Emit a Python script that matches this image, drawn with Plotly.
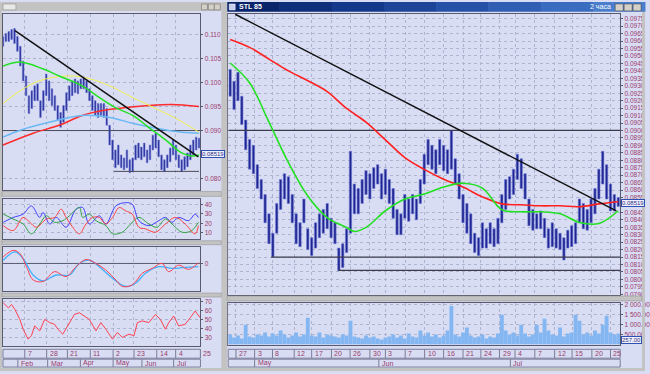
import plotly.graph_objects as go

W, H = 650, 374
def PX(x): return x / W
def PY(y): return 1 - y / H

# ======================= DATA =======================
# ---- left window: daily bars, x = trading-day index ----
L_DAY = list(range(0, 137, 2))
L_HIGH = [0.10959,0.11021,0.11062,0.11103,0.11123,0.10959,0.10753,0.10445,0.10137,0.09726,
          0.09829,0.09931,0.09972,0.09623,0.09829,0.10178,0.10034,0.09870,0.09726,0.09520,
          0.09377,0.09520,0.09788,0.09931,0.10034,0.10075,0.10034,0.10075,0.10116,0.10034,
          0.09870,0.09726,0.09623,0.09562,0.09562,0.09562,0.09459,0.09109,0.08801,0.08596,
          0.08698,0.08493,0.08431,0.08596,0.08390,0.08431,0.08698,0.08740,0.08657,0.08740,
          0.08596,0.08698,0.08904,0.08945,0.08801,0.08493,0.08390,0.08493,0.08637,0.08801,
          0.08698,0.08493,0.08390,0.08452,0.08534,0.08698,0.08801,0.08863,0.08842]
L_LOW = [0.10753,0.10856,0.10856,0.10897,0.10815,0.10651,0.10342,0.10034,0.09726,0.09356,
         0.09459,0.09623,0.09623,0.09274,0.09418,0.09726,0.09623,0.09520,0.09418,0.09212,
         0.09068,0.09171,0.09418,0.09623,0.09726,0.09788,0.09767,0.09870,0.09870,0.09788,
         0.09623,0.09418,0.09315,0.09274,0.09315,0.09274,0.09109,0.08698,0.08390,0.08226,
         0.08287,0.08226,0.08185,0.08226,0.08123,0.08144,0.08390,0.08431,0.08390,0.08452,
         0.08329,0.08390,0.08596,0.08637,0.08452,0.08185,0.08144,0.08226,0.08349,0.08493,
         0.08390,0.08226,0.08144,0.08185,0.08246,0.08390,0.08493,0.08596,0.08637]

L_GRN_X = [0,12,28,39,55,67,78,90,101,113,124,131,136]
L_GRN = [0.10342,0.10425,0.10281,0.10137,0.09931,0.09685,0.09479,0.09315,0.09068,0.08801,0.08534,0.08472,0.08493]
L_YEL_X = [0,12,25,44,58,74,90,106,120,136]
L_YEL = [0.09562,0.09829,0.10034,0.10137,0.10096,0.09931,0.09685,0.09459,0.09253,0.08966]
L_BLU_X = [0,12,32,55,74,90,106,124,136]
L_BLU = [0.08863,0.09007,0.09171,0.09315,0.09274,0.09150,0.09048,0.08966,0.08945]
L_RED_X = [0,21,39,55,69,85,101,117,136]
L_RED = [0.08698,0.08945,0.09109,0.09315,0.09418,0.09479,0.09520,0.09541,0.09500]
L_TREND_X = [8.3, 135.6]
L_TREND_Y = [0.1108, 0.0845]
L_LEVEL_Y = [0.0900, 0.0815]
L_LEVEL_X0 = [0, 77]
L_LEVEL_X1 = [137, 136]
L_LAST = 0.08519
L_TICKS = [0.080, 0.090, 0.095, 0.100, 0.105, 0.110]

# indicator 1 (three lines)
I1_BLU_X = [0.2,7.1,14.0,19.7,25.5,27.8,32.4,37,43.8,50.7,55.3,59.9,66.8,71.4,78.3,85.1,89.7,94.3,101.2,108.1,112.7,117.3,121.9,128.7,133.3,135.6]
I1_BLU = [21.1,26.2,29.7,38.3,26.2,31.4,19.3,26.2,15.9,34.8,36.6,19.3,27.9,19.3,38.3,41.7,40,22.8,17.6,22.8,26.2,21.1,26.2,22.8,29.7,26.2]
I1_RED_X = [0.2,7.1,14.0,18.6,23.2,30.1,35.8,40.4,43.8,48.4,53.0,57.6,62.2,66.8,71.4,76.0,80.6,85.1,89.7,94.3,98.9,105.8,112.7,119.6,126.4,133.3,135.6]
I1_RED = [17.6,12.4,26.2,21.1,15.9,24.5,26.2,34.8,26.2,15.9,9.0,19.3,26.2,26.2,19.3,26.2,36.6,33.1,29.7,15.9,14.2,10.7,19.3,26.2,19.3,9.0,17.6]
I1_GRN_X = [0.2,7.1,14.0,19.7,25.5,30.1,35.8,41.5,46.1,53.0,55.3,59.9,64.5,71.4,76.0,82.8,88.6,94.3,101.2,106.9,112.7,117.3,124.2,131.0,135.6]
I1_GRN = [29.7,24.5,19.3,9.0,19.3,27.9,21.1,22.8,27.9,36.6,26.2,29.7,22.8,17.6,9.0,10.7,19.3,26.2,19.3,15.9,24.5,19.3,10.7,12.4,21.1]

# indicator 2 (MACD-style, x 1e-3)
I2_RED_X = [0.2,7.1,11.7,16.3,20.9,27.8,35.8,43.8,50.7,57.6,64.5,71.4,78.3,82.8,89.7,96.6,103.5,110.4,115.0,121.9,128.7,135.6]
I2_RED = [0.67,1.33,1.0,-0.33,-1.67,-1.83,-0.83,-1.33,-0.33,0.4,0,-0.67,-1.67,-2.33,-2.17,-1.0,-0.5,0,-0.83,-0.17,-0.6,0.07]
I2_BLU_X = [0.2,8.3,14.0,20.9,27.8,36.9,46.1,53.0,59.9,66.8,76.0,85.1,92.0,98.9,108.1,117.3,126.4,135.6]
I2_BLU = [0.33,1.17,0.5,-1.17,-1.77,-1.17,-1.17,0,0.33,-0.33,-1.5,-2.33,-2.0,-1.0,-0.33,-0.5,-0.4,-0.33]

# indicator 3 (oscillator 0-100)
I3_X = [0.2,3.7,6.0,8.3,11.7,14.0,17.4,19.7,22.0,25.5,28.9,32.4,35.8,38.1,41.5,46.1,49.6,53.0,56.5,59.9,64.5,67.9,71.4,76.0,79.4,82.8,87.4,90.9,93.2,96.6,101.2,105.8,109.2,112.7,115.0,118.4,121.9,126.4,129.9,133.3,136.8]
I3_Y = [68.9,63.3,67.0,61.4,50.3,39.2,28.1,31.9,43.0,37.4,50.3,46.7,44.8,39.2,33.7,46.7,55.9,57.8,54.1,50.3,37.4,46.7,39.2,28.1,35.6,30.0,33.7,31.9,46.7,48.6,46.7,55.9,50.3,39.2,46.7,54.1,43.0,44.8,52.2,59.7,52.2]

L_DATE_X = [15.1, 30.3, 44.7, 60.6, 76.4, 90.9, 106.7, 119.8, 137.0]
L_DATE_TXT = ["7", "28", "21", "11", "2", "23", "14", "4", "25"]
L_MONTH_X = [10.3, 31.0, 53.7, 76.4, 96.4, 118.4]
L_MONTH_TXT = ["Feb", "Mar", "Apr", "May", "Jun", "Jul"]

# ---- right window: 2-hour bars, x = bar index ----
R_BAR = list(range(0, 101))
R_HIGH = [0.0941,0.0933,0.0939,0.0923,0.0907,0.0894,0.0890,0.0877,0.0867,0.0857,
          0.0844,0.0831,0.0851,0.0867,0.0871,0.0869,0.0857,0.0844,0.0838,0.0854,
          0.0834,0.0828,0.0838,0.0844,0.0847,0.0851,0.0841,0.0838,0.0821,0.0824,
          0.0834,0.0886,0.0864,0.0861,0.0867,0.0873,0.0871,0.0875,0.0877,0.0871,
          0.0874,0.0867,0.0861,0.0847,0.0844,0.0857,0.0854,0.0857,0.0854,0.0867,
          0.0884,0.0894,0.0890,0.0887,0.0894,0.0890,0.0887,0.0900,0.0881,0.0871,
          0.0857,0.0851,0.0844,0.0831,0.0828,0.0838,0.0834,0.0838,0.0834,0.0841,
          0.0857,0.0867,0.0869,0.0874,0.0884,0.0881,0.0871,0.0854,0.0847,0.0844,
          0.0846,0.0841,0.0834,0.0838,0.0834,0.0831,0.0828,0.0833,0.0836,0.0838,
          0.0854,0.0851,0.0847,0.0854,0.0861,0.0874,0.0886,0.0877,0.0864,0.0857,
          0.0855]
R_LOW = [0.0923,0.0914,0.0920,0.0904,0.0887,0.0874,0.0871,0.0861,0.0854,0.0838,
         0.0824,0.0815,0.0831,0.0847,0.0854,0.0851,0.0838,0.0824,0.0822,0.0838,
         0.0820,0.0816,0.0821,0.0828,0.0831,0.0834,0.0828,0.0824,0.0806,0.0808,
         0.0818,0.0831,0.0844,0.0844,0.0851,0.0857,0.0854,0.0861,0.0864,0.0854,
         0.0857,0.0851,0.0841,0.0830,0.0830,0.0841,0.0839,0.0844,0.0840,0.0851,
         0.0864,0.0877,0.0874,0.0871,0.0877,0.0873,0.0871,0.0874,0.0864,0.0854,
         0.0838,0.0831,0.0824,0.0818,0.0816,0.0821,0.0821,0.0824,0.0822,0.0824,
         0.0838,0.0847,0.0854,0.0857,0.0867,0.0861,0.0854,0.0836,0.0833,0.0834,
         0.0834,0.0828,0.0821,0.0822,0.0821,0.0820,0.0813,0.0821,0.0822,0.0824,
         0.0838,0.0834,0.0833,0.0838,0.0844,0.0854,0.0864,0.0854,0.0846,0.0846,
         0.0849]
R_VOL = [500,350,450,300,1000,400,350,500,450,600,
         400,550,450,700,500,350,450,600,400,500,
         1350,450,400,600,350,500,450,400,350,500,
         450,1200,400,350,300,450,350,400,300,250,
         350,400,500,350,450,300,550,400,350,700,
         450,600,400,500,350,450,700,1950,500,400,
         600,850,450,350,400,500,300,400,350,550,
         1500,700,500,600,450,1000,550,400,500,1000,
         600,1300,700,500,450,850,400,550,600,1500,
         1200,500,600,450,700,550,1000,1450,600,500,
         550]
R_RED_X = [0,5,10,15,20,25,30,35,40,45,50,55,60,65,70,75,80,85,90,95,100]
R_RED = [0.09611,0.09558,0.09479,0.09400,0.09334,0.09261,0.09148,0.09056,0.08937,0.08818,
         0.08739,0.08673,0.08620,0.08554,0.08507,0.08501,0.08494,0.08494,0.08488,0.08507,0.08521]
R_GRN_X = [0,5,10,15,20,25,30,32,35,40,45,50,55,60,65,70,75,80,85,90,95,100]
R_GRN = [0.09453,0.09320,0.09056,0.08785,0.08560,0.08415,0.08349,0.08322,0.08349,0.08461,0.08540,
         0.08573,0.08620,0.08646,0.08613,0.08468,0.08454,0.08454,0.08441,0.08382,0.08375,0.08461]
R_TREND_X = [1.3, 99.5]
R_TREND_Y = [0.0978, 0.0846]
R_LEVEL_Y = [0.0900, 0.0815, 0.0806]
R_LEVEL_X0 = [-0.5, 10.6, 27.8]
R_LAST = 0.08519
R_LAST_VOL = "257.00"
R_TICKS = [0.0790,0.0795,0.0800,0.0805,0.0810,0.0815,0.0820,0.0825,0.0830,0.0835,0.0840,0.0845,
           0.0855,0.0860,0.0865,0.0870,0.0875,0.0880,0.0885,0.0890,0.0895,0.0900,0.0905,0.0910,
           0.0915,0.0920,0.0925,0.0930,0.0935,0.0940,0.0945,0.0950,0.0955,0.0960,0.0965,0.0970,0.0975]
R_VOL_TICKS = [500, 1000, 1500, 2000]
R_VOL_TXT = ["500.00", "1 000.00", "1 500.00", "2 000.00"]

R_DATE_X = [1.5,6.3,10.9,16.5,21.0,26.1,30.9,36.0,40.0,45.1,50.1,55.0,60.0,64.6,69.4,73.4,78.5,83.6,88.1,93.2,98.0]
R_DATE_TXT = ["27","3","8","12","17","20","26","30","3","7","10","16","21","24","29","4","7","12","15","20","25"]
R_MONTH_X = [6.3, 38.3, 72.2]
R_MONTH_TXT = ["May", "Jun", "Jul"]

# ======================= STYLE =======================
BG = "#d9ddf3"
GRAY = "#c3c3c3"
BORDER = "#5a5a6e"
GRID = "#aeb3cf"
LBL = "#9a3c6c"
BARC = "#1f2590"
HALO = "#6f7ad6"
FONT = "Liberation Sans"

fig = go.Figure()

def bars(x, hi, lo, width, xa, ya, color):
    fig.add_trace(go.Bar(x=x, y=[h - l for h, l in zip(hi, lo)], base=lo, width=width,
                         marker=dict(color=color, line=dict(width=0.6, color=HALO)),
                         xaxis=xa, yaxis=ya, showlegend=False, hoverinfo="skip"))

def line(x, y, color, w, xa, ya, shape="spline"):
    fig.add_trace(go.Scatter(x=x, y=y, mode="lines", line=dict(color=color, width=w, shape=shape),
                             xaxis=xa, yaxis=ya, showlegend=False, hoverinfo="skip"))

# ---- left price panel ----
for yv, x0, x1 in zip(L_LEVEL_Y, L_LEVEL_X0, L_LEVEL_X1):
    line([x0, x1], [yv, yv], "#4a4a5a", 1, "x", "y", "linear")
line(L_RED_X, L_RED, "#ff2a2a", 1.5, "x", "y")
line(L_BLU_X, L_BLU, "#6ab8f4", 1.5, "x", "y")
line(L_YEL_X, L_YEL, "#f4f050", 1, "x", "y")
bars(L_DAY, L_HIGH, L_LOW, 1.1, "x", "y", BARC)
line(L_GRN_X, L_GRN, "#22e022", 1.5, "x", "y")
line(L_TREND_X, L_TREND_Y, "#111111", 1.5, "x", "y", "linear")

# ---- left indicators ----
line(I1_BLU_X, I1_BLU, "#4040ff", 1, "x2", "y2")
line(I1_GRN_X, I1_GRN, "#30a040", 1, "x2", "y2")
line(I1_RED_X, I1_RED, "#ff4040", 1, "x2", "y2")
line([0, 137], [0, 0], "#5a5a70", 1, "x3", "y3", "linear")
line(I2_BLU_X, I2_BLU, "#40b0ff", 1.3, "x3", "y3")
line(I2_RED_X, I2_RED, "#ff4050", 1, "x3", "y3")
line(I3_X, I3_Y, "#ff4050", 1, "x4", "y4", "linear")

# ---- right price panel ----
for yv, x0 in zip(R_LEVEL_Y, R_LEVEL_X0):
    line([x0, 100.5], [yv, yv], "#3c3c4c", 1.2, "x5", "y5", "linear")
line(R_RED_X, R_RED, "#ff2020", 1.6, "x5", "y5")
bars(R_BAR, R_HIGH, R_LOW, 0.6, "x5", "y5", BARC)
line(R_GRN_X, R_GRN, "#22e022", 1.6, "x5", "y5")
line(R_TREND_X, R_TREND_Y, "#111111", 1.5, "x5", "y5", "linear")

# ---- right volume ----
fig.add_trace(go.Bar(x=R_BAR, y=R_VOL, width=1.0, marker=dict(color="#84b6f2", line=dict(width=0)),
                     xaxis="x6", yaxis="y6", showlegend=False, hoverinfo="skip"))

# ======================= AXES =======================
def xax(dom, rng, anchor, grid):
    return dict(domain=dom, range=rng, anchor=anchor, showticklabels=False, ticks="",
                tickvals=grid, showgrid=True, gridcolor=GRID, griddash="dot", gridwidth=1,
                zeroline=False, showline=True, mirror=True, linecolor=BORDER, linewidth=1,
                fixedrange=True)

def yax(dom, rng, anchor, tv, tt=None, fmt=None):
    d = dict(domain=dom, range=rng, anchor=anchor, side="right", tickvals=tv,
             ticks="outside", ticklen=2, tickcolor=BORDER,
             tickfont=dict(family=FONT, size=6.5, color=LBL),
             showgrid=True, gridcolor=GRID, griddash="dot", gridwidth=1,
             zeroline=False, showline=True, mirror=True, linecolor=BORDER, linewidth=1,
             fixedrange=True)
    if tt is not None:
        d["ticktext"] = tt
    if fmt is not None:
        d["tickformat"] = fmt
    return d

LX = [PX(3), PX(202)]
RX = [PX(230), PX(625)]
L_RANGE = [0, 137]
R_RANGE = [-0.5, 100.5]

fig.update_layout(
    xaxis=xax(LX, L_RANGE, "y", L_DATE_X),
    yaxis=yax([PY(191), PY(12)], [0.07753, 0.1143], "x", L_TICKS, fmt=".3f"),
    xaxis2=xax(LX, L_RANGE, "y2", L_DATE_X),
    yaxis2=yax([PY(240), PY(200)], [3.8, 45.2], "x2", [10, 20, 30, 40]),
    xaxis3=xax(LX, L_RANGE, "y3", L_DATE_X),
    yaxis3=yax([PY(293), PY(248)], [-2.8, 1.7], "x3", [0]),
    xaxis4=xax(LX, L_RANGE, "y4", L_DATE_X),
    yaxis4=yax([PY(349), PY(301)], [20, 73.3], "x4", [30, 40, 50, 60, 70]),
    xaxis5=xax(RX, R_RANGE, "y5", R_DATE_X),
    yaxis5=yax([PY(297), PY(12)], [0.07895, 0.09783], "x5", R_TICKS, fmt=".4f"),
    xaxis6=xax(RX, R_RANGE, "y6", R_DATE_X),
    yaxis6=yax([PY(348), PY(305)], [-50, 2100], "x6", R_VOL_TICKS, R_VOL_TXT),
    barmode="overlay",
    width=W, height=H, margin=dict(l=0, r=0, t=0, b=0),
    paper_bgcolor=BG, plot_bgcolor=BG, showlegend=False,
    font=dict(family=FONT, size=7, color=LBL),
)

# ======================= WINDOW CHROME =======================
shapes = []
def rect(x0, y0, x1, y1, fill, lc=None, lw=0, layer="below"):
    shapes.append(dict(type="rect", xref="paper", yref="paper", x0=PX(x0), x1=PX(x1),
                       y0=PY(y1), y1=PY(y0), fillcolor=fill, layer=layer,
                       line=dict(color=lc or fill, width=lw)))

rect(0, 0, 2, 374, GRAY, layer="above")
rect(223, 0, 229, 374, GRAY, layer="above")
rect(647, 0, 650, 374, GRAY, layer="above")
rect(0, 371, 650, 374, GRAY, layer="above")
# left title bar (inactive)
rect(0, 0, 223, 9, GRAY, layer="above")
rect(3, 2, 16, 8, "#e8e8e8", "#808080", 0.5, layer="above")
for bx in (203, 210, 216):
    rect(bx, 2, bx + 6, 8, "#d4d0c8", "#606060", 0.5, layer="above")
# right title bar (active, gradient)
grad = ["#0a246a", "#0f2f7a", "#15398a", "#1c4598", "#2551a6", "#2f5eb3", "#3a6cbf", "#4a7dcb"]
seg = (650 - 229) / len(grad)
for i, c in enumerate(grad):
    rect(229 + i * seg, 0, 229 + (i + 1) * seg + 0.5, 10, c, layer="above")
rect(231, 2, 237, 8, "#c8d0f0", "#ffffff", 0.5, layer="above")
for bx in (620, 629, 638):
    rect(bx, 2, bx + 8, 9, "#d4d0c8", "#404040", 0.5, layer="above")
# panel separators
for y0, y1 in ((192, 197), (242, 246), (295, 299)):
    rect(2, y0, 223, y1, GRAY, "#8a8a8a", 0.5, layer="above")
rect(229, 298, 647, 303, GRAY, "#8a8a8a", 0.5, layer="above")
# date strips
for x0, x1 in ((3, 202), (230, 625)):
    rect(x0, 352, x1, 361, BG, "#7c7c98", 1)
    rect(x0, 362, x1, 370, BG, "#7c7c98", 1)

fig.update_layout(shapes=shapes)

ann = []
def dates(xs, txt, xref, y0, y1):
    for xv, t in zip(xs, txt):
        fig.add_shape(type="line", xref=xref, yref="paper", x0=xv, x1=xv, y0=PY(y1), y1=PY(y0),
                      line=dict(color="#7c7c98", width=1))
        ann.append(dict(x=xv, y=PY((y0 + y1) / 2), xref=xref, yref="paper", text=t,
                        showarrow=False, xanchor="left", yanchor="middle", xshift=1,
                        font=dict(family=FONT, size=7, color=LBL)))
dates(L_DATE_X, L_DATE_TXT, "x4", 352, 361)
dates(L_MONTH_X, L_MONTH_TXT, "x4", 362, 370)
dates(R_DATE_X, R_DATE_TXT, "x6", 352, 361)
dates(R_MONTH_X, R_MONTH_TXT, "x6", 362, 370)

box = dict(showarrow=False, xanchor="left", bgcolor="#eef0ff", bordercolor="#3050b0",
           borderwidth=1, borderpad=0, font=dict(family=FONT, size=6, color="#303080"))
ann.append(dict(x=PX(203), y=L_LAST, xref="paper", yref="y", text="%.5f" % L_LAST, **box))
ann.append(dict(x=PX(626), y=R_LAST, xref="paper", yref="y5", text="%.5f" % R_LAST, yshift=-1, **box))
ann.append(dict(x=PX(626), y=200, xref="paper", yref="y6", text=R_LAST_VOL, **box))
ann.append(dict(x=PX(239), y=PY(5), xref="paper", yref="paper", text="<b>STL 85</b>", showarrow=False,
                xanchor="left", yanchor="middle", font=dict(family=FONT, size=7, color="#ffffff")))
ann.append(dict(x=PX(618), y=PY(5), xref="paper", yref="paper", text="2 часа", showarrow=False,
                xanchor="right", yanchor="middle", font=dict(family=FONT, size=7, color="#ffffff")))
fig.update_layout(annotations=ann)

fig.write_html("out.html", config={"displayModeBar": False},
               post_script="document.body.style.margin='0';document.body.style.overflow='hidden';")
